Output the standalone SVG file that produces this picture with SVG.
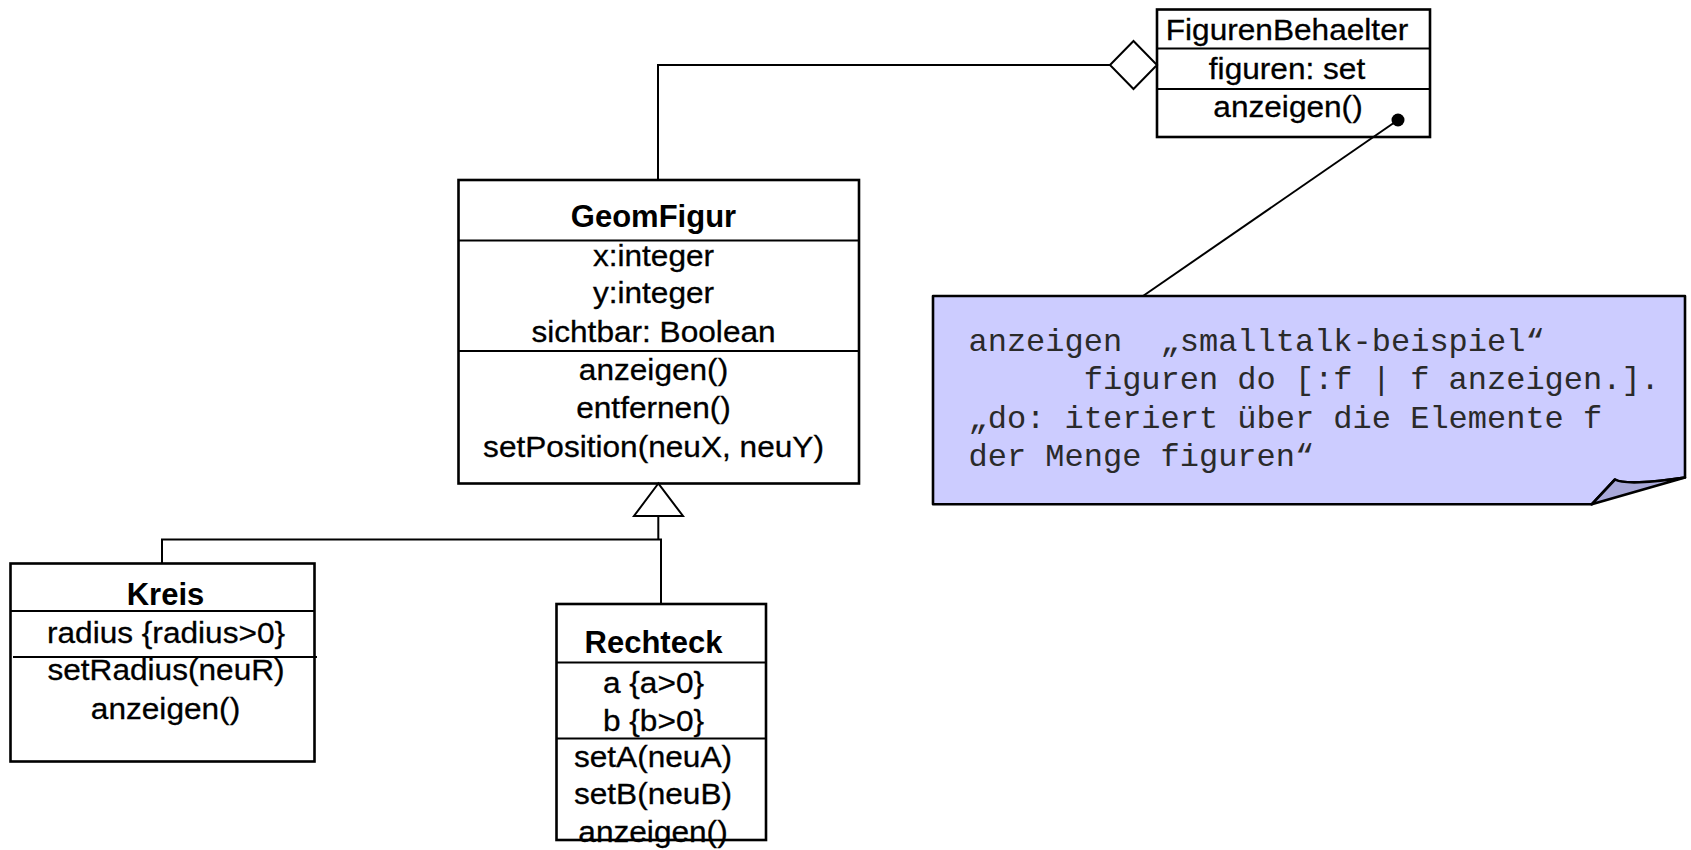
<svg xmlns="http://www.w3.org/2000/svg" width="1691" height="850" viewBox="0 0 1691 850">
  <style>
    .box { fill: #ffffff; stroke: #000000; stroke-width: 2.6; }
    .div { fill: none; stroke: #000000; stroke-width: 2; }
    .conn { fill: none; stroke: #000000; stroke-width: 2; }
    .head { fill: #ffffff; stroke: #000000; stroke-width: 2; }
    .name { font-family: "Liberation Sans", Arial, sans-serif; font-weight: bold; font-size: 31px; text-anchor: middle; fill: #000000; }
    .txt { font-family: "Liberation Sans", Arial, sans-serif; font-size: 29px; text-anchor: middle; fill: #000000; stroke: #000000; stroke-width: 0.3; }
    .note { fill: #ccccff; stroke: #000000; stroke-width: 2.6; stroke-linejoin: round; }
    .fold { fill: #a9a9d9; stroke: #000000; stroke-width: 2.6; stroke-linejoin: round; }
    .code { font-family: "Liberation Mono", "Courier New", monospace; font-size: 32px; fill: #2a2a2a; white-space: pre; }
  </style>

  <!-- FigurenBehaelter -->
  <g id="FigurenBehaelter">
    <rect class="box" x="1157" y="9.5" width="273" height="127.5"/>
    <line class="div" x1="1157" y1="48.5" x2="1430" y2="48.5"/>
    <line class="div" x1="1157" y1="89" x2="1430" y2="89"/>
    <text class="txt" transform="translate(1287,39.5) scale(1.09,1)">FigurenBehaelter</text>
    <text class="txt" transform="translate(1287,78.5) scale(1.09,1)">figuren: set</text>
    <text class="txt" transform="translate(1288,116.5) scale(1.09,1)">anzeigen()</text>
  </g>

  <!-- GeomFigur -->
  <g id="GeomFigur">
    <rect class="box" x="458.5" y="180" width="400.5" height="303.5"/>
    <line class="div" x1="458.5" y1="240.5" x2="859" y2="240.5"/>
    <line class="div" x1="458.5" y1="351" x2="859" y2="351"/>
    <text class="name" x="653.5" y="227">GeomFigur</text>
    <text class="txt" transform="translate(653.5,265.5) scale(1.09,1)">x:integer</text>
    <text class="txt" transform="translate(653.5,302.5) scale(1.09,1)">y:integer</text>
    <text class="txt" transform="translate(653.5,342) scale(1.09,1)">sichtbar: Boolean</text>
    <text class="txt" transform="translate(653.5,380) scale(1.09,1)">anzeigen()</text>
    <text class="txt" transform="translate(653.5,418) scale(1.09,1)">entfernen()</text>
    <text class="txt" transform="translate(653.5,456.5) scale(1.09,1)">setPosition(neuX, neuY)</text>
  </g>

  <!-- Kreis -->
  <g id="Kreis">
    <rect class="box" x="10.5" y="563.5" width="304" height="198"/>
    <line class="div" x1="10.5" y1="611" x2="314.5" y2="611"/>
    <line class="div" x1="13" y1="657" x2="317" y2="657"/>
    <text class="name" x="165.5" y="605">Kreis</text>
    <text class="txt" transform="translate(166,643) scale(1.09,1)">radius {radius&gt;0}</text>
    <text class="txt" transform="translate(166,680) scale(1.09,1)">setRadius(neuR)</text>
    <text class="txt" transform="translate(165.5,719) scale(1.09,1)">anzeigen()</text>
  </g>

  <!-- Rechteck -->
  <g id="Rechteck">
    <rect class="box" x="556.5" y="604" width="209.5" height="236"/>
    <line class="div" x1="556.5" y1="662.5" x2="766" y2="662.5"/>
    <line class="div" x1="556.5" y1="738.5" x2="766" y2="738.5"/>
    <text class="name" x="653.5" y="652.5">Rechteck</text>
    <text class="txt" transform="translate(653.5,692.5) scale(1.09,1)">a {a&gt;0}</text>
    <text class="txt" transform="translate(653.5,730.5) scale(1.09,1)">b {b&gt;0}</text>
    <text class="txt" transform="translate(653,766.5) scale(1.09,1)">setA(neuA)</text>
    <text class="txt" transform="translate(653,803.5) scale(1.09,1)">setB(neuB)</text>
    <text class="txt" transform="translate(653,841.5) scale(1.09,1)">anzeigen()</text>
  </g>

  <!-- note with folded corner -->
  <g id="Notiz">
    <path class="note" d="M933,296 H1685 V477.5 C1650,483 1622,484 1615,479.5 L1591.7,504.3 H933 Z"/>
    <path class="fold" d="M1591.7,504.3 L1615,479.5 C1622,484 1650,483 1685,477.5 Z"/>
    <text class="code" xml:space="preserve" x="968.5" y="351">anzeigen  „smalltalk-beispiel“</text>
    <text class="code" xml:space="preserve" x="968.5" y="389">      figuren do [:f | f anzeigen.].</text>
    <text class="code" xml:space="preserve" x="968.5" y="427.5">„do: iteriert über die Elemente f</text>
    <text class="code" xml:space="preserve" x="968.5" y="465.5">der Menge figuren“</text>
  </g>

  <!-- connectors -->
  <g id="connectors">
    <!-- aggregation GeomFigur -> FigurenBehaelter -->
    <path class="conn" d="M658,180 V65 H1110"/>
    <polygon class="head" points="1110,65 1133.5,41 1157,65 1133.5,89"/>
    <!-- note anchor -->
    <line class="conn" x1="1398" y1="120" x2="1143" y2="296"/>
    <circle cx="1398" cy="120" r="6.5" fill="#000000"/>
    <!-- generalization Kreis / Rechteck -> GeomFigur -->
    <path class="conn" d="M658.3,516 V539.5"/>
    <path class="conn" d="M162,563.5 V539.5 H660"/>
    <path class="conn" d="M661,538.5 V604"/>
    <polygon class="head" points="658.3,483.5 634,516 683,516"/>
  </g>
</svg>
